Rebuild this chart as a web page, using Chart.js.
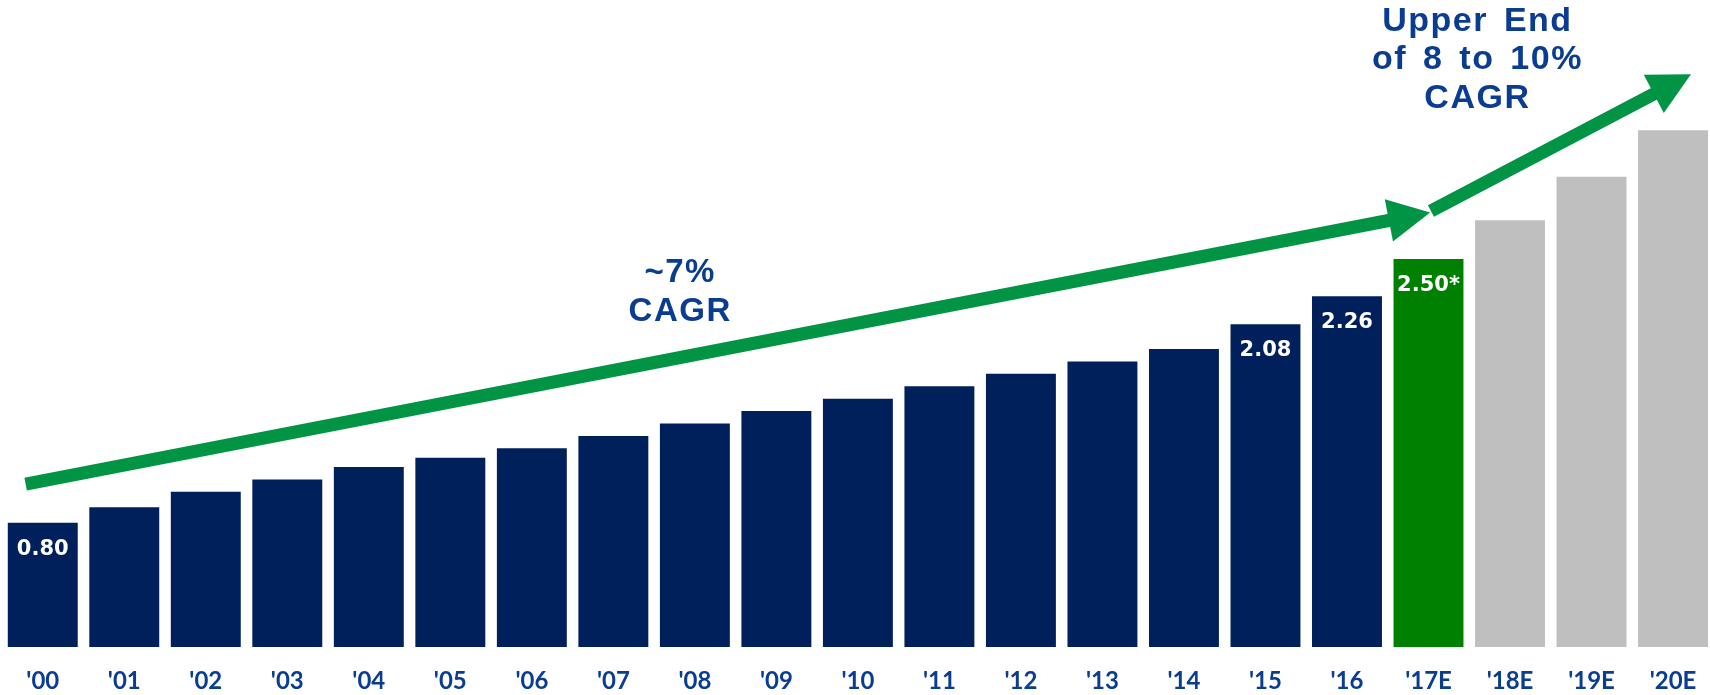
<!DOCTYPE html>
<html>
<head>
<meta charset="utf-8">
<script src="https://cdn.jsdelivr.net/npm/chart.js@4/dist/chart.umd.min.js"></script>
<style>
  html, body { margin: 0; padding: 0; background: #ffffff; overflow: hidden; }
  #wrap { width: 1716px; height: 695px; }
</style>
</head>
<body>
<div id="wrap"><canvas id="growthChart" width="1716" height="695"></canvas></div>
<script>
// data
const categories = ["'00", "'01", "'02", "'03", "'04", "'05", "'06", "'07", "'08", "'09", "'10",
                    "'11", "'12", "'13", "'14", "'15", "'16", "'17E", "'18E", "'19E", "'20E"];
const values = [0.80, 0.90, 1.00, 1.08, 1.16, 1.22, 1.28, 1.36, 1.44, 1.52, 1.60,
                1.68, 1.76, 1.84, 1.92, 2.08, 2.26, 2.50, 2.75, 3.03, 3.33];
const periodKind = ['actual', 'actual', 'actual', 'actual', 'actual', 'actual', 'actual',
                    'actual', 'actual', 'actual', 'actual', 'actual', 'actual', 'actual',
                    'actual', 'actual', 'actual', 'guided', 'estimate', 'estimate', 'estimate'];
const valueLabels = ['0.80', '', '', '', '', '', '', '', '', '', '', '', '', '', '',
                     '2.08', '2.26', '2.50*', '', '', ''];

// trend arrows and notes, in (category index, value) terms
const trendArrows = [
  { from: [-0.21, 1.05], to: [17.02, 2.80] },
  { from: [17.03, 2.81], to: [20.22, 3.69] }
];
const notes = [
  { lines: ['~7%', 'CAGR'], at: [7.82, 2.35], size: 33 },
  { lines: ['Upper End', 'of 8 to 10%', 'CAGR'], at: [17.60, 3.97], size: 34 }
];

const kindColor = { actual: '#00205b', guided: '#008000', estimate: '#bfbfbf' };
const blueText = '#0a3c91';
const arrowGreen = '#009444';

const overlay = {
  id: 'overlay',
  afterDatasetsDraw(chart) {
    const ctx = chart.ctx;
    const xs = chart.scales.x, ys = chart.scales.y;
    const px = (p) => [xs.getPixelForValue(p[0]), ys.getPixelForValue(p[1])];

    // arrows
    trendArrows.forEach(a => {
      const [x0, y0] = px(a.from);
      const [x1, y1] = px(a.to);
      const ang = Math.atan2(y1 - y0, x1 - x0);
      const headLen = 42, headW = 43;
      const bx = x1 - headLen * Math.cos(ang), by = y1 - headLen * Math.sin(ang);
      ctx.save();
      ctx.strokeStyle = arrowGreen;
      ctx.fillStyle = arrowGreen;
      ctx.lineWidth = 13;
      ctx.lineCap = 'butt';
      ctx.beginPath();
      ctx.moveTo(x0, y0);
      ctx.lineTo(bx + Math.cos(ang), by + Math.sin(ang));
      ctx.stroke();
      ctx.beginPath();
      ctx.moveTo(x1, y1);
      ctx.lineTo(bx + headW / 2 * Math.sin(ang), by - headW / 2 * Math.cos(ang));
      ctx.lineTo(bx - headW / 2 * Math.sin(ang), by + headW / 2 * Math.cos(ang));
      ctx.closePath();
      ctx.fill();
      ctx.restore();
    });

    // value labels inside bars
    const meta = chart.getDatasetMeta(0);
    ctx.save();
    ctx.fillStyle = '#ffffff';
    ctx.font = 'bold 21px "DejaVu Sans"';
    ctx.textAlign = 'center';
    ctx.textBaseline = 'alphabetic';
    meta.data.forEach((bar, i) => {
      if (!valueLabels[i]) return;
      ctx.fillText(valueLabels[i], bar.x, bar.y + 32);
    });
    ctx.restore();

    // CAGR notes
    ctx.save();
    ctx.fillStyle = blueText;
    ctx.textAlign = 'center';
    ctx.textBaseline = 'alphabetic';
    ctx.letterSpacing = '1.5px';
    ctx.wordSpacing = '5px';
    notes.forEach(n => {
      const [x, y] = px(n.at);
      ctx.font = 'bold ' + n.size + 'px "Liberation Sans", Arial, sans-serif';
      n.lines.forEach((line, k) => ctx.fillText(line, x, y + k * 38.5));
    });
    ctx.restore();
  }
};

new Chart(document.getElementById('growthChart').getContext('2d'), {
  type: 'bar',
  data: {
    labels: categories,
    datasets: [{
      data: values,
      backgroundColor: periodKind.map(k => kindColor[k]),
      borderWidth: 0,
      barPercentage: 0.858,
      categoryPercentage: 1.0
    }]
  },
  options: {
    responsive: false,
    animation: false,
    layout: { padding: { left: 2, right: 0, top: 0, bottom: 0 } },
    plugins: { legend: { display: false }, tooltip: { enabled: false } },
    scales: {
      x: {
        grid: { display: false, drawTicks: false },
        border: { display: false },
        ticks: {
          color: blueText,
          font: { family: 'Lato', weight: 'bold', size: 24 },
          padding: 19.6,
          maxRotation: 0,
          autoSkip: false
        },
        afterFit(scale) { scale.height = 48; }
      },
      y: {
        display: false,
        min: 0,
        max: 4.169
      }
    }
  },
  plugins: [overlay]
});
</script>
</body>
</html>
